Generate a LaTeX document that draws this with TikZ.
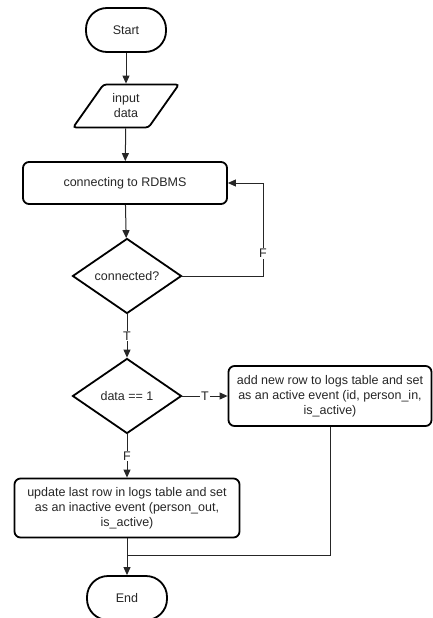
\documentclass[tikz,border=0pt]{standalone}
\usepackage{fontspec}
\setmainfont{Liberation Sans}
\usetikzlibrary{shapes.geometric}
\usetikzlibrary{arrows.meta}

\begin{document}
\begin{tikzpicture}
[x=1pt,y=-1pt,%
  every node/.style={draw,line width=1.8pt,inner sep=0pt,align=center,text=black!85},%
  terminal/.style={rectangle,rounded corners=21pt,minimum width=80pt,minimum height=44pt},%
  inout/.style={trapezium,trapezium left angle=53,trapezium right angle=127,%
    trapezium stretches=true,minimum width=106pt,minimum height=43pt,rounded corners=3pt},%
  process/.style={rectangle,rounded corners=6pt},%
  decision/.style={diamond,minimum width=109pt,minimum height=75pt},%
  line/.style={line width=1pt,draw=black!85},%
  flow/.style={line,-{Triangle[length=8pt,width=7pt]}},%
  lbl/.style={draw=none,fill=white,inner sep=1pt}]
\fontsize{12.5}{15}\selectfont
\useasboundingbox (0,0) rectangle (433,618);

\node[terminal] (start) at (126,30) {Start};
\node[inout] (input) at (126,106) {input\\data};
\node[process,minimum width=204pt,minimum height=42pt] (connect) at (125,183) {connecting to RDBMS};
\node[decision] (connected) at (127,276) {connected?};
\node[decision] (data) at (127,396) {data == 1};
\node[process,minimum width=203pt,minimum height=60pt] (addrow) at (330,396)
  {add new row to logs table and set\\as an active event (id, person\_in,\\is\_active)};
\node[process,minimum width=225pt,minimum height=59pt] (update) at (127,508)
  {update last row in logs table and set\\as an inactive event (person\_out,\\is\_active)};
\node[terminal] (end) at (127,598) {End};
\coordinate (retry) at (263,183);
\coordinate (merge) at (127,555);

\draw[flow] (start) -- (input);
\draw[flow] (input) -- (connect);
\draw[flow] (connect) -- (connected);
\draw[flow] (connected.east) -| node[lbl,pos=0.62] {F} (retry) -- (connect.east);
\draw[flow] (connected) -- node[lbl] {T} (data);
\draw[flow] (data.east) -- node[lbl] {T} (addrow.west);
\draw[flow] (data) -- node[lbl] {F} (update);
\draw[line] (addrow.south) |- (merge);
\draw[flow] (update) -- (end);
\end{tikzpicture}
\end{document}
